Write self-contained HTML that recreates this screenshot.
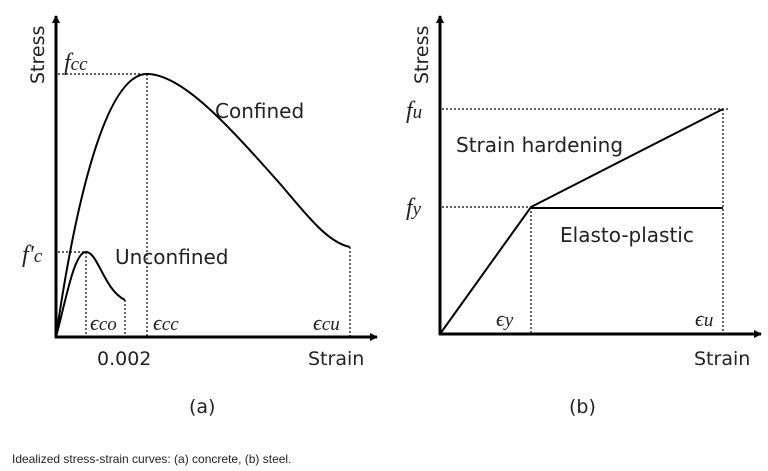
<!DOCTYPE html>
<html><head><style>
body{margin:0;background:#fff;}
svg{display:block}
text{font-family:"DejaVu Sans","Liberation Sans",sans-serif;fill:#222}
.it{font-family:"Liberation Serif",serif;font-style:italic}
</style></head><body>
<svg width="768" height="471" viewBox="0 0 768 471">
<defs><marker id="a" markerWidth="8" markerHeight="8" refX="7" refY="4" orient="auto" markerUnits="userSpaceOnUse"><path d="M0,0 L8,4 L0,8 z" fill="#000"/></marker></defs>
<g stroke="#000" fill="none">
<line x1="56" y1="338" x2="56" y2="16" stroke-width="3" marker-end="url(#a)"/>
<line x1="55" y1="337" x2="377" y2="337" stroke-width="3" marker-end="url(#a)"/>
<g stroke-dasharray="2,2" stroke-width="1.2">
<line x1="58" y1="74" x2="147" y2="74"/><line x1="147" y1="74" x2="147" y2="336"/>
<line x1="58" y1="252" x2="86" y2="252"/><line x1="86" y1="252" x2="86" y2="336"/>
<line x1="125" y1="300" x2="125" y2="336"/><line x1="350" y1="247" x2="350" y2="336"/>
</g>
<path d="M56,337 C70,240 100,74 147,74 C182,74 228,125 282,186 C312,222 330,243 350,247" stroke-width="2"/>
<path d="M56,337 C66,300 74,252 86,252 C98,252 104,290 125,300" stroke-width="2"/>
<line x1="440" y1="335" x2="440" y2="16" stroke-width="3" marker-end="url(#a)"/>
<line x1="439" y1="334" x2="761" y2="334" stroke-width="3" marker-end="url(#a)"/>
<g stroke-dasharray="2,2" stroke-width="1.2">
<line x1="442" y1="109" x2="728" y2="109"/><line x1="442" y1="207" x2="531" y2="207"/>
<line x1="531" y1="207" x2="531" y2="333"/><line x1="723" y1="109" x2="723" y2="333"/>
</g>
<polyline points="440,334 531,207 723,109" stroke-width="2"/>
<line x1="531" y1="208" x2="723" y2="208" stroke-width="2"/>
</g>
<text transform="translate(44,84) rotate(-90)" font-size="19">Stress</text>
<text transform="translate(428,84) rotate(-90)" font-size="19">Stress</text>
<text class="it" x="64" y="70" font-size="24">f<tspan font-size="19">cc</tspan></text>
<text class="it" x="22" y="262" font-size="24">f'<tspan font-size="19">c</tspan></text>
<text x="215" y="118" font-size="20">Confined</text>
<text x="115" y="264" font-size="20">Unconfined</text>
<text class="it" x="90" y="330" font-size="22">ϵ<tspan font-size="19">co</tspan></text>
<text class="it" x="153" y="330" font-size="22">ϵ<tspan font-size="19">cc</tspan></text>
<text class="it" x="313" y="330" font-size="22">ϵ<tspan font-size="19">cu</tspan></text>
<text x="97" y="365" font-size="19">0.002</text>
<text x="308" y="365" font-size="19">Strain</text>
<text x="189" y="413" font-size="19">(a)</text>
<text class="it" x="406" y="118" font-size="24">f<tspan font-size="19">u</tspan></text>
<text class="it" x="406" y="215" font-size="24">f<tspan font-size="19">y</tspan></text>
<text x="456" y="152" font-size="20">Strain hardening</text>
<text x="560" y="242" font-size="20">Elasto-plastic</text>
<text class="it" x="496" y="326" font-size="22">ϵ<tspan font-size="19">y</tspan></text>
<text class="it" x="695" y="326" font-size="22">ϵ<tspan font-size="19">u</tspan></text>
<text x="694" y="365" font-size="19">Strain</text>
<text x="569" y="413" font-size="19">(b)</text>
<text x="12" y="463" font-size="12" style="font-family:'Liberation Sans',sans-serif" fill="#444">Idealized stress-strain curves: (a) concrete, (b) steel.</text>
</svg>
</body></html>
